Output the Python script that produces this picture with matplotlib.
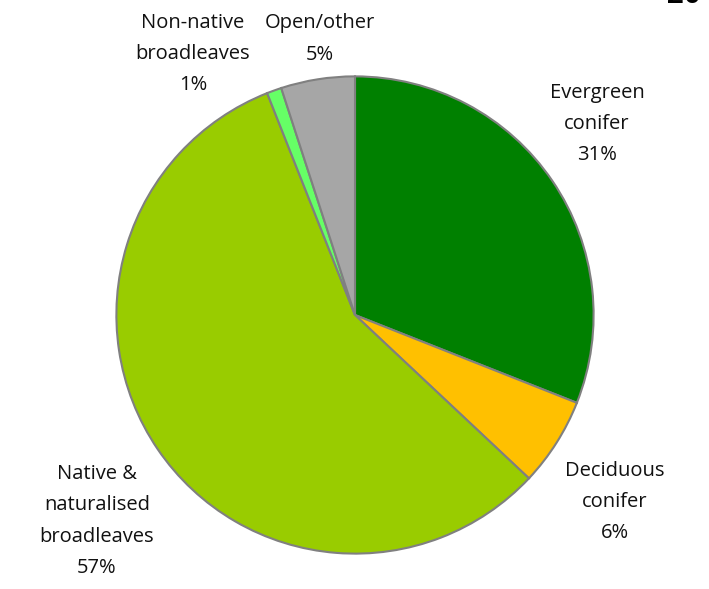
import matplotlib
matplotlib.use("Agg")
import matplotlib.pyplot as plt

categories = ["Evergreen\nconifer", "Deciduous\nconifer", "Native &\nnaturalised\nbroadleaves",
              "Non-native\nbroadleaves", "Open/other"]
values = [31, 6, 57, 1, 5]
colors = ["#008000", "#FFC000", "#99CC00", "#66FF66", "#A6A6A6"]

W, H = 709, 589
fig = plt.figure(figsize=(W / 100, H / 100), dpi=100)
plt.rcParams['font.family'] = ['Open Sans', 'DejaVu Sans']

cx, cy, r = 355, 315, 241
ax = fig.add_axes([(cx - r) / W, (H - cy - r) / H, 2 * r / W, 2 * r / H])
ax.pie(values, colors=colors, startangle=90, counterclock=False,
       wedgeprops=dict(edgecolor="#808080", linewidth=1.5))
ax.set_xlim(-1.01, 1.01)
ax.set_ylim(-1.01, 1.01)
ax.set_aspect("equal")
ax.axis("off")

# label centres (pixels, from top-left)
label_pos = [(597, 124), (615, 502), (97, 521), (193, 54), (320, 39)]
for cat, v, (px, py) in zip(categories, values, label_pos):
    fig.text(px / W, 1 - py / H, f"{cat}\n{v}%", ha="center", va="center",
             fontsize=14.5, linespacing=1.75, color="#111111")

fig.text(667 / W, 1 - 10 / H, "20", ha="left", va="bottom", fontsize=22,
         fontweight="bold", family="Liberation Sans")

fig.savefig("out.png", dpi=100)
